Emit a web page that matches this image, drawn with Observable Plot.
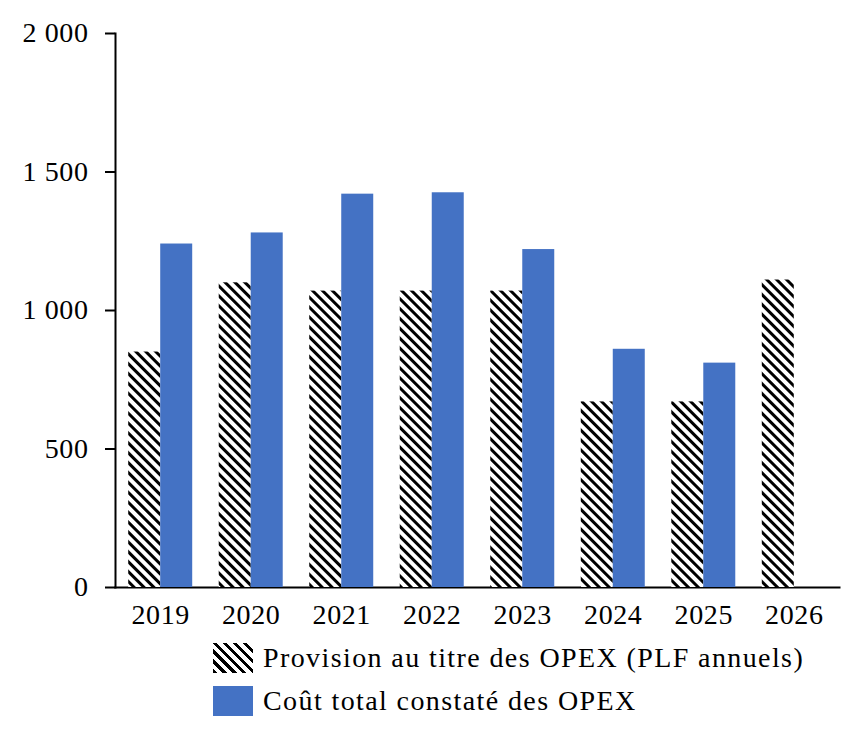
<!DOCTYPE html>
<html>
<head>
<meta charset="utf-8">
<script src="https://cdn.jsdelivr.net/npm/d3@7"></script>
<script src="https://cdn.jsdelivr.net/npm/@observablehq/plot@0.6"></script>
<style>
  body { margin: 0; background: #fff; font-family: "Liberation Serif", serif; }
  #chart svg { display: block; }
  #chart svg text { letter-spacing: 0.6px; }
  .legend { margin-left: 213px; margin-top: 0px; font-size: 28px; color: #000; letter-spacing: 1.4px; }
  .legend .row { display: flex; align-items: center; height: 43px; }
  .legend .sw { width: 40px; height: 30px; margin-right: 10px; flex: none; }
  .legend .hatch { background: repeating-linear-gradient(45deg, #000 0 3px, #fff 3px 7px); }
  .legend .blue { background: #4472C4; }
</style>
</head>
<body>
<div id="chart"></div>
<div class="legend">
  <div class="row"><div class="sw hatch"></div><span id="l1"></span></div>
  <div class="row"><div class="sw blue"></div><span id="l2"></span></div>
</div>
<script>
const years = ["2019", "2020", "2021", "2022", "2023", "2024", "2025", "2026"];
const provision = [850, 1100, 1070, 1070, 1070, 670, 670, 1110];
const cout = [1240, 1280, 1420, 1425, 1220, 860, 810, null];
const seriesNames = ["Provision au titre des OPEX (PLF annuels)", "Coût total constaté des OPEX"];
const yTicks = [0, 500, 1000, 1500, 2000];

const data = years.map((year, i) => ({year, provision: provision[i], cout: cout[i]}));
const fmt = d3.formatLocale({thousands: "\u00a0", grouping: [3], decimal: ",", currency: ["", " €"]}).format(",d");

const plot = Plot.plot({
  width: 853,
  height: 636,
  marginLeft: 115,
  marginRight: 14,
  marginTop: 33,
  marginBottom: 49,
  style: {fontFamily: "Liberation Serif, serif", fontSize: "28px", color: "#000", strokeWidth: 2, overflow: "visible"},
  x: {type: "band", domain: years, round: false, paddingInner: 0.293, paddingOuter: 0.146, tickSize: 0, tickPadding: 17, line: true, label: null},
  y: {domain: [0, 2000], ticks: yTicks, tickFormat: fmt, tickSize: 10, tickPadding: 17, line: true, label: null},
  marks: [
    Plot.barY(data, {x: "year", y: "provision", fill: "url(#hatch)", insetRight: 32}),
    Plot.barY(data.filter(d => d.cout != null), {x: "year", y: "cout", fill: "#4472C4", insetLeft: 32})
  ]
});

const svg = d3.select(plot);
const defs = svg.insert("defs", ":first-child");
const pat = defs.append("pattern")
  .attr("id", "hatch")
  .attr("patternUnits", "userSpaceOnUse")
  .attr("width", 7).attr("height", 7)
  .attr("patternTransform", "rotate(-45)");
pat.append("rect").attr("width", 7).attr("height", 7).attr("fill", "#fff");
pat.append("rect").attr("width", 3).attr("height", 7).attr("fill", "#000");

document.getElementById("chart").appendChild(plot);
document.getElementById("l1").textContent = seriesNames[0];
document.getElementById("l2").textContent = seriesNames[1];
</script>
</body>
</html>
